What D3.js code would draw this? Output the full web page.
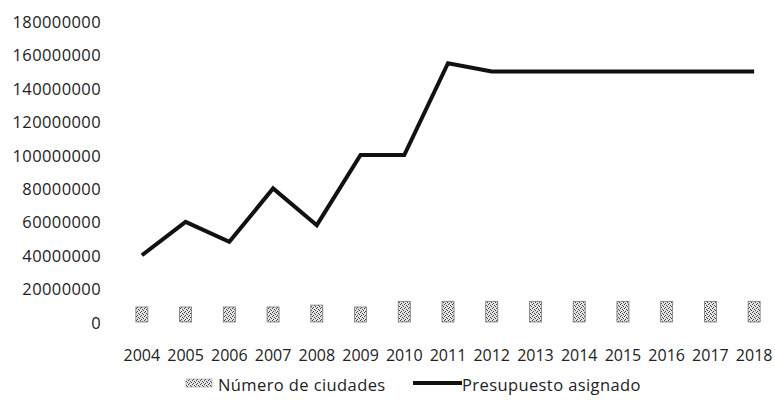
<!DOCTYPE html>
<html>
<head>
<meta charset="utf-8">
<script src="https://cdn.jsdelivr.net/npm/d3@7"></script>
<style>
  body { margin: 0; background: #fff; }
  text { font-family: "Open Sans", sans-serif; font-size: 16.5px; fill: #222; letter-spacing: 0.4px; }
  .xlab { font-size: 16px; letter-spacing: 0; }
</style>
</head>
<body>
<svg id="chart"></svg>
<script>
// datos
var years = ["2004","2005","2006","2007","2008","2009","2010","2011","2012","2013","2014","2015","2016","2017","2018"];
var presupuesto = [40000000, 60000000, 48000000, 80000000, 58000000, 100000000, 100000000, 155000000,
                   150000000, 150000000, 150000000, 150000000, 150000000, 150000000, 150000000];
var ciudades = [8, 8, 8, 8, 9, 8, 11, 11, 11, 11, 11, 11, 11, 11, 11];
var yTicks = [0, 20000000, 40000000, 60000000, 80000000, 100000000, 120000000, 140000000, 160000000, 180000000];

var width = 775, height = 404;
var svg = d3.select("#chart").attr("width", width).attr("height", height);

// patrón para las barras (aspecto punteado gris)
var defs = svg.append("defs");
var pat = defs.append("pattern")
  .attr("id", "dots")
  .attr("patternUnits", "userSpaceOnUse")
  .attr("width", 4).attr("height", 4);
pat.append("rect").attr("width", 4).attr("height", 4).attr("fill", "#e4e4e4");
[[0,0],[2,1],[1,3],[3,2]].forEach(function(p) {
  pat.append("rect").attr("x", p[0]).attr("y", p[1]).attr("width", 1).attr("height", 1).attr("fill", "#444");
});

var x = d3.scaleBand().domain(years).range([120, 776]).padding(0);
var y = d3.scaleLinear().domain([0, 180000000]).range([322, 21.5]);
// eje secundario (oculto) para número de ciudades
var y2 = d3.scaleLinear().domain([0, 160]).range([322, 21.5]);

// eje Y
svg.append("g")
  .selectAll("text")
  .data(yTicks)
  .enter().append("text")
  .attr("x", 101)
  .attr("y", function(d) { return y(d); })
  .attr("text-anchor", "end")
  .attr("dominant-baseline", "central")
  .text(function(d) { return d; });

// eje X
svg.append("g")
  .selectAll("text")
  .data(years)
  .enter().append("text")
  .attr("class", "xlab")
  .attr("x", function(d) { return x(d) + x.bandwidth() / 2; })
  .attr("y", 355)
  .attr("text-anchor", "middle")
  .attr("dominant-baseline", "central")
  .text(function(d) { return d; });

// barras
var bw = 12;
svg.append("g")
  .selectAll("rect")
  .data(ciudades)
  .enter().append("rect")
  .attr("x", function(d, i) { return x(years[i]) + x.bandwidth() / 2 - bw / 2; })
  .attr("y", function(d) { return y2(d); })
  .attr("width", bw)
  .attr("height", function(d) { return y2(0) - y2(d); })
  .attr("fill", "url(#dots)")
  .attr("stroke", "#777")
  .attr("stroke-width", 0.8);

// línea
var line = d3.line()
  .x(function(d, i) { return x(years[i]) + x.bandwidth() / 2; })
  .y(function(d) { return y(d); });

svg.append("path")
  .datum(presupuesto)
  .attr("d", line)
  .attr("fill", "none")
  .attr("stroke", "#111")
  .attr("stroke-width", 4)
  .attr("stroke-linejoin", "miter");

// leyenda
var lg = svg.append("g");
lg.append("rect")
  .attr("x", 186).attr("y", 379).attr("width", 26).attr("height", 8)
  .attr("fill", "url(#dots)").attr("stroke", "#999").attr("stroke-width", 0.6);
lg.append("text")
  .attr("x", 218).attr("y", 384)
  .attr("dominant-baseline", "central")
  .text("Número de ciudades");
lg.append("line")
  .attr("x1", 413).attr("x2", 462).attr("y1", 383).attr("y2", 383)
  .attr("stroke", "#111").attr("stroke-width", 4);
lg.append("text")
  .attr("x", 462).attr("y", 384)
  .attr("dominant-baseline", "central")
  .text("Presupuesto asignado");
</script>
</body>
</html>
